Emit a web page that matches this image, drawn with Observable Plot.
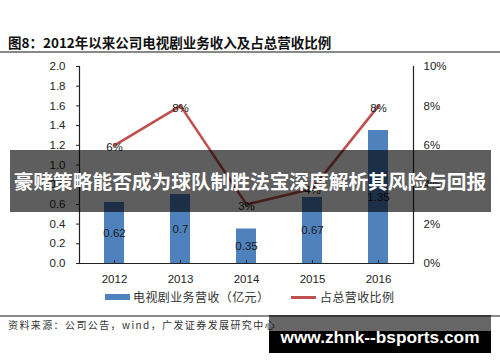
<!DOCTYPE html>
<html><head><meta charset="utf-8">
<script src="https://cdn.jsdelivr.net/npm/d3@7"></script>
<script src="https://cdn.jsdelivr.net/npm/@observablehq/plot@0.6"></script>
<style>
body{margin:0;background:#fff;}
#wrap{position:relative;width:500px;height:362px;overflow:hidden;font-family:"Liberation Sans",Arial,sans-serif;color:#222;}
#title{position:absolute;left:8px;top:33px;font-family:"Noto Sans CJK SC",sans-serif;font-weight:bold;font-size:13.5px;line-height:18px;color:#111;white-space:nowrap;}
.hr{position:absolute;left:0;width:500px;height:1.5px;background:#888;}
#chart{position:absolute;left:0;top:55px;}
#legend{position:absolute;left:0;top:289px;width:500px;height:16px;font-family:"Noto Sans CJK SC",sans-serif;font-size:12px;color:#333;}
.sw{position:absolute;}
.lt{position:absolute;top:0;line-height:16px;white-space:nowrap;letter-spacing:0.4px;}
#caption{position:absolute;left:8px;top:318px;font-family:"Noto Sans CJK SC",sans-serif;font-size:10px;line-height:14px;letter-spacing:1.4px;color:#333;white-space:nowrap;}
#banner{position:absolute;left:10px;top:150px;width:481px;height:62px;background:rgba(0,0,0,0.63);}
#bannert{position:absolute;left:0;top:150px;width:500px;height:62px;color:#fff;font-family:"Noto Sans CJK SC",sans-serif;font-weight:bold;font-size:19.7px;line-height:62px;text-align:center;white-space:nowrap;}
#wm1{position:absolute;left:269px;top:315px;width:222px;height:16px;background:rgba(0,0,0,0.6);}
#wm2{position:absolute;left:269px;top:331px;width:222px;height:22px;background:#000;}
#wmt{position:absolute;left:269px;top:325px;width:222px;height:24px;line-height:24px;text-align:center;color:#fff;font-family:"Liberation Sans",Arial,sans-serif;font-weight:bold;font-size:17.3px;white-space:nowrap;}
</style></head><body>
<div id="wrap">
<div id="title">图8：2012年以来公司电视剧业务收入及占总营收比例</div>
<div class="hr" style="top:51px"></div>
<div id="chart"></div>
<div id="legend">
  <div class="sw" style="left:105px;top:5px;width:25px;height:6px;background:#4F81BD"></div>
  <div class="lt" style="left:133px">电视剧业务营收（亿元）</div>
  <div class="sw" style="left:291px;top:7px;width:25px;height:3px;background:#C0504D"></div>
  <div class="lt" style="left:320px">占总营收比例</div>
</div>
<div class="hr" style="top:315px"></div>
<div id="caption">资料来源：公司公告，wind，广发证券发展研究中心</div>
<div id="banner"></div>
<div id="bannert">豪赌策略能否成为球队制胜法宝深度解析其风险与回报</div>
<div id="wm1"></div><div id="wm2"></div>
<div id="wmt">www.zhnk--bsports.com</div>
</div>
<script>
const years = ["2012", "2013", "2014", "2015", "2016"];
const revenue = [0.62, 0.7, 0.35, 0.67, 1.35];          // 亿元
const share = [6, 8, 3, 3.8, 8];                        // percent of total revenue
const shareLabels = ["6%", "8%", "3%", "4%", "8%"];
const leftTicks = [0, 0.2, 0.4, 0.6, 0.8, 1.0, 1.2, 1.4, 1.6, 1.8, 2.0];
const rightTicks = [0, 2, 4, 6, 8, 10];
const rightTickLabels = ["0%", "2%", "4%", "6%", "8%", "10%"];

const ratio = 2.0 / 10; // left-axis max over right-axis max
const data = years.map((year, i) => ({year, revenue: revenue[i], share: share[i] * ratio, label: shareLabels[i]}));

const chart = Plot.plot({
  width: 500,
  height: 238,
  marginLeft: 79,
  marginRight: 87,
  marginTop: 11,
  marginBottom: 30,
  style: {fontFamily: "'Liberation Sans', Arial, sans-serif", fontSize: "11.5px", color: "#222", background: "transparent"},
  x: {type: "band", domain: years, paddingInner: 0.7, paddingOuter: 0.35, align: 0.5},
  y: {domain: [0, 2]},
  marks: [
    Plot.barY(data, {x: "year", y: "revenue", fill: "#4F81BD"}),
    Plot.text(data, {x: "year", y: d => d.revenue / 2, text: d => String(d.revenue), fill: "#1a1a1a", fontSize: 11.5}),
    Plot.ruleY([0], {stroke: "#222", strokeWidth: 1.2}),
    Plot.frame({anchor: "left", stroke: "#222", strokeWidth: 1.2}),
    Plot.frame({anchor: "right", stroke: "#222", strokeWidth: 1.2}),
    Plot.ruleX(years, {x: d => d, y1: 0, y2: 0.03, stroke: "#222"}),
    Plot.line(data, {x: "year", y: "share", stroke: "#C0504D", strokeWidth: 2.6}),
    Plot.text(data, {x: "year", y: "share", text: "label", dy: 2, fill: "#1a1a1a", fontSize: 11.5}),
    Plot.axisY(leftTicks, {anchor: "left", tickSize: 3, tickPadding: 11, tickFormat: d3.format(".1f"), label: null, fontSize: 11.5}),
    Plot.axisY(rightTicks.map(v => v * ratio), {anchor: "right", tickSize: 0, tickPadding: 10, tickFormat: (d, i) => rightTickLabels[i], label: null, fontSize: 11.5}),
    Plot.axisX({anchor: "bottom", tickSize: 0, tickPadding: 11, label: null, fontSize: 11.5})
  ]
});
document.getElementById("chart").appendChild(chart);
</script>
</body></html>
